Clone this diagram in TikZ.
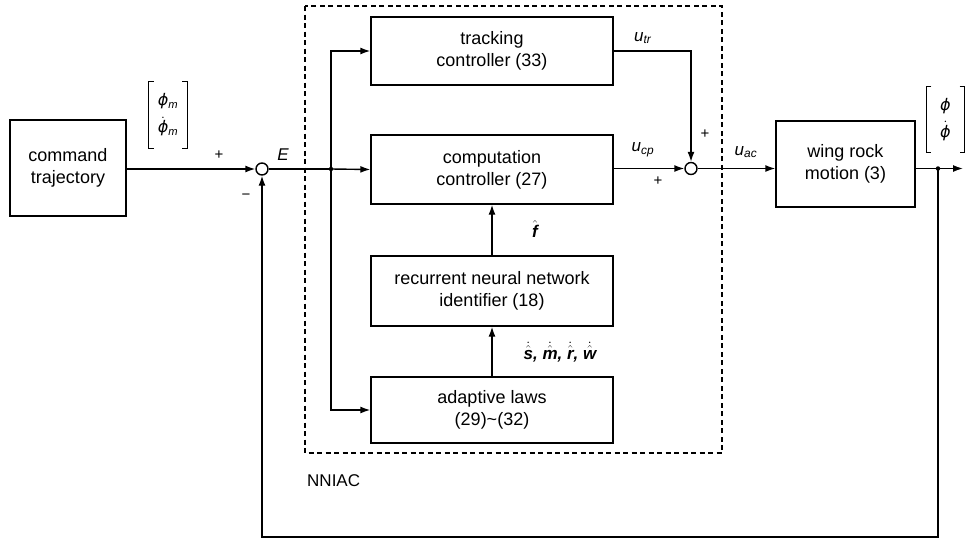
\documentclass[tikz,border=0pt]{standalone}
\usepackage{fontspec}
\setmainfont{Liberation Sans}
\newfontfamily\phifont{DejaVu Sans}
\usetikzlibrary{arrows.meta}
\newcommand{\phisym}{{\phifont\itshape ϕ}}
\newcommand{\dotphi}{$\dot{\hbox{\phisym}}$}
\newcommand{\bhat}[1]{$\hat{\hbox{\bfseries\itshape #1}}$}
\newcommand{\bdhat}[1]{$\dot{\hat{\hbox{\bfseries\itshape #1}}}$}
\tikzset{
  blk/.style={draw, line width=1.4pt, minimum width=242pt, align=center, inner sep=0pt, font=\fontsize{18}{22}\selectfont},
  sumc/.style={draw, circle, line width=1.4pt, minimum size=12pt, inner sep=0pt},
  ln/.style={line width=1.4pt},
  arr/.style={line width=1.4pt, -{Latex[length=10pt,width=7pt]}},
  lbl/.style={font=\fontsize{17}{20}\selectfont, inner sep=0pt},
  sgn/.style={font=\fontsize{15}{18}\selectfont, inner sep=0pt},
  vec/.style={minimum width=38pt, inner sep=0pt, align=center, font=\fontsize{16}{27}\selectfont},
  jdot/.style={circle, fill, inner sep=0pt, minimum size=4.5pt}
}
\begin{document}
\begin{tikzpicture}[x=1pt,y=-1pt]
\useasboundingbox (0,0) rectangle (966,541);
% dashed NNIAC box
\draw[line width=1.4pt, dash pattern=on 5pt off 3.5pt] (305,6) rectangle (722,453);
\node[lbl, anchor=west] (nniac) at (307,481) {NNIAC};
% blocks
\node[blk, minimum width=116pt, minimum height=96pt] (cmd) at (68,168) {command\\trajectory};
\node[blk, minimum height=68pt] (track) at (492,51) {tracking\\controller (33)};
\node[blk, minimum height=69pt] (comp) at (492,169.5) {computation\\controller (27)};
\node[blk, minimum height=70pt] (rnn) at (492,291) {recurrent neural network\\identifier (18)};
\node[blk, minimum height=66pt] (adapt) at (492,410) {adaptive laws\\(29)\textasciitilde(32)};
\node[blk, minimum width=139pt, minimum height=86pt] (wing) at (845.5,164) {wing rock\\motion (3)};
% summing junctions
\node[sumc] (s1) at (262,169) {};
\node[sumc] (s2) at (691,168.5) {};
% junction points
\node[jdot] (br) at (331,169) {};
\node[jdot] (fb) at (938,168.5) {};
\coordinate (out) at (963,168.5);
\coordinate (fbc) at (938,537);
% connectors
\draw[arr] (cmd.east |- s1.west) -- (s1.west);
\draw[ln] (s1.east) -- (br.center);
\draw[arr] (br.center) -- (comp.west);
\draw[arr] (br.center) |- (track.west);
\draw[arr] (br.center) |- (adapt.west);
\draw[arr] (track.east) -| (s2.north);
\draw[arr] (comp.east |- s2.west) -- (s2.west);
\draw[arr] (s2.east) -- (s2.east -| wing.west);
\draw[arr] (s2.east -| wing.east) -- (out);
\draw[arr] (adapt.north) -- (rnn.south);
\draw[arr] (rnn.north) -- (comp.south);
\draw[arr] (fb.center) -- (fbc) -| (s1.south);
% signs and labels
\node[sgn] (p1) at (219,155) {+};
\node[sgn] (m1) at (246,197) {−};
\node[lbl] (E) at (283,155) {\textit{E}};
\node[sgn] (p2) at (705,134) {+};
\node[sgn] (p3) at (658,181) {+};
\node[lbl] (utr) at (643,38) {\textit{u}\textsubscript{\textit{tr}}};
\node[lbl] (ucp) at (643,150) {\textit{u}\textsubscript{\textit{cp}}};
\node[lbl] (uac) at (746,152) {\textit{u}\textsubscript{\textit{ac}}};
\node[lbl] (fh) at (535,229) {\bhat{f}};
\node[lbl] (adl) at (560,352) {\bdhat{s}\textbf{\textit{,}} \bdhat{m}\textbf{\textit{,}} \bdhat{r}\textbf{\textit{,}} \bdhat{w}};
% state vectors
\node[vec, minimum height=66pt] (phim) at (168,115) {\phisym\textsubscript{\textit{m}}\\\dotphi\textsubscript{\textit{m}}};
\draw[line width=1pt] (phim.north west) ++(5,0) -- (phim.north west) -- (phim.south west) -- ++(5,0);
\draw[line width=1pt] (phim.north east) ++(-5,0) -- (phim.north east) -- (phim.south east) -- ++(-5,0);
\node[vec, minimum height=65pt] (phi) at (945.5,119.5) {\phisym\\\dotphi};
\draw[line width=1pt] (phi.north west) ++(5,0) -- (phi.north west) -- (phi.south west) -- ++(5,0);
\draw[line width=1pt] (phi.north east) ++(-5,0) -- (phi.north east) -- (phi.south east) -- ++(-5,0);
\end{tikzpicture}
\end{document}
